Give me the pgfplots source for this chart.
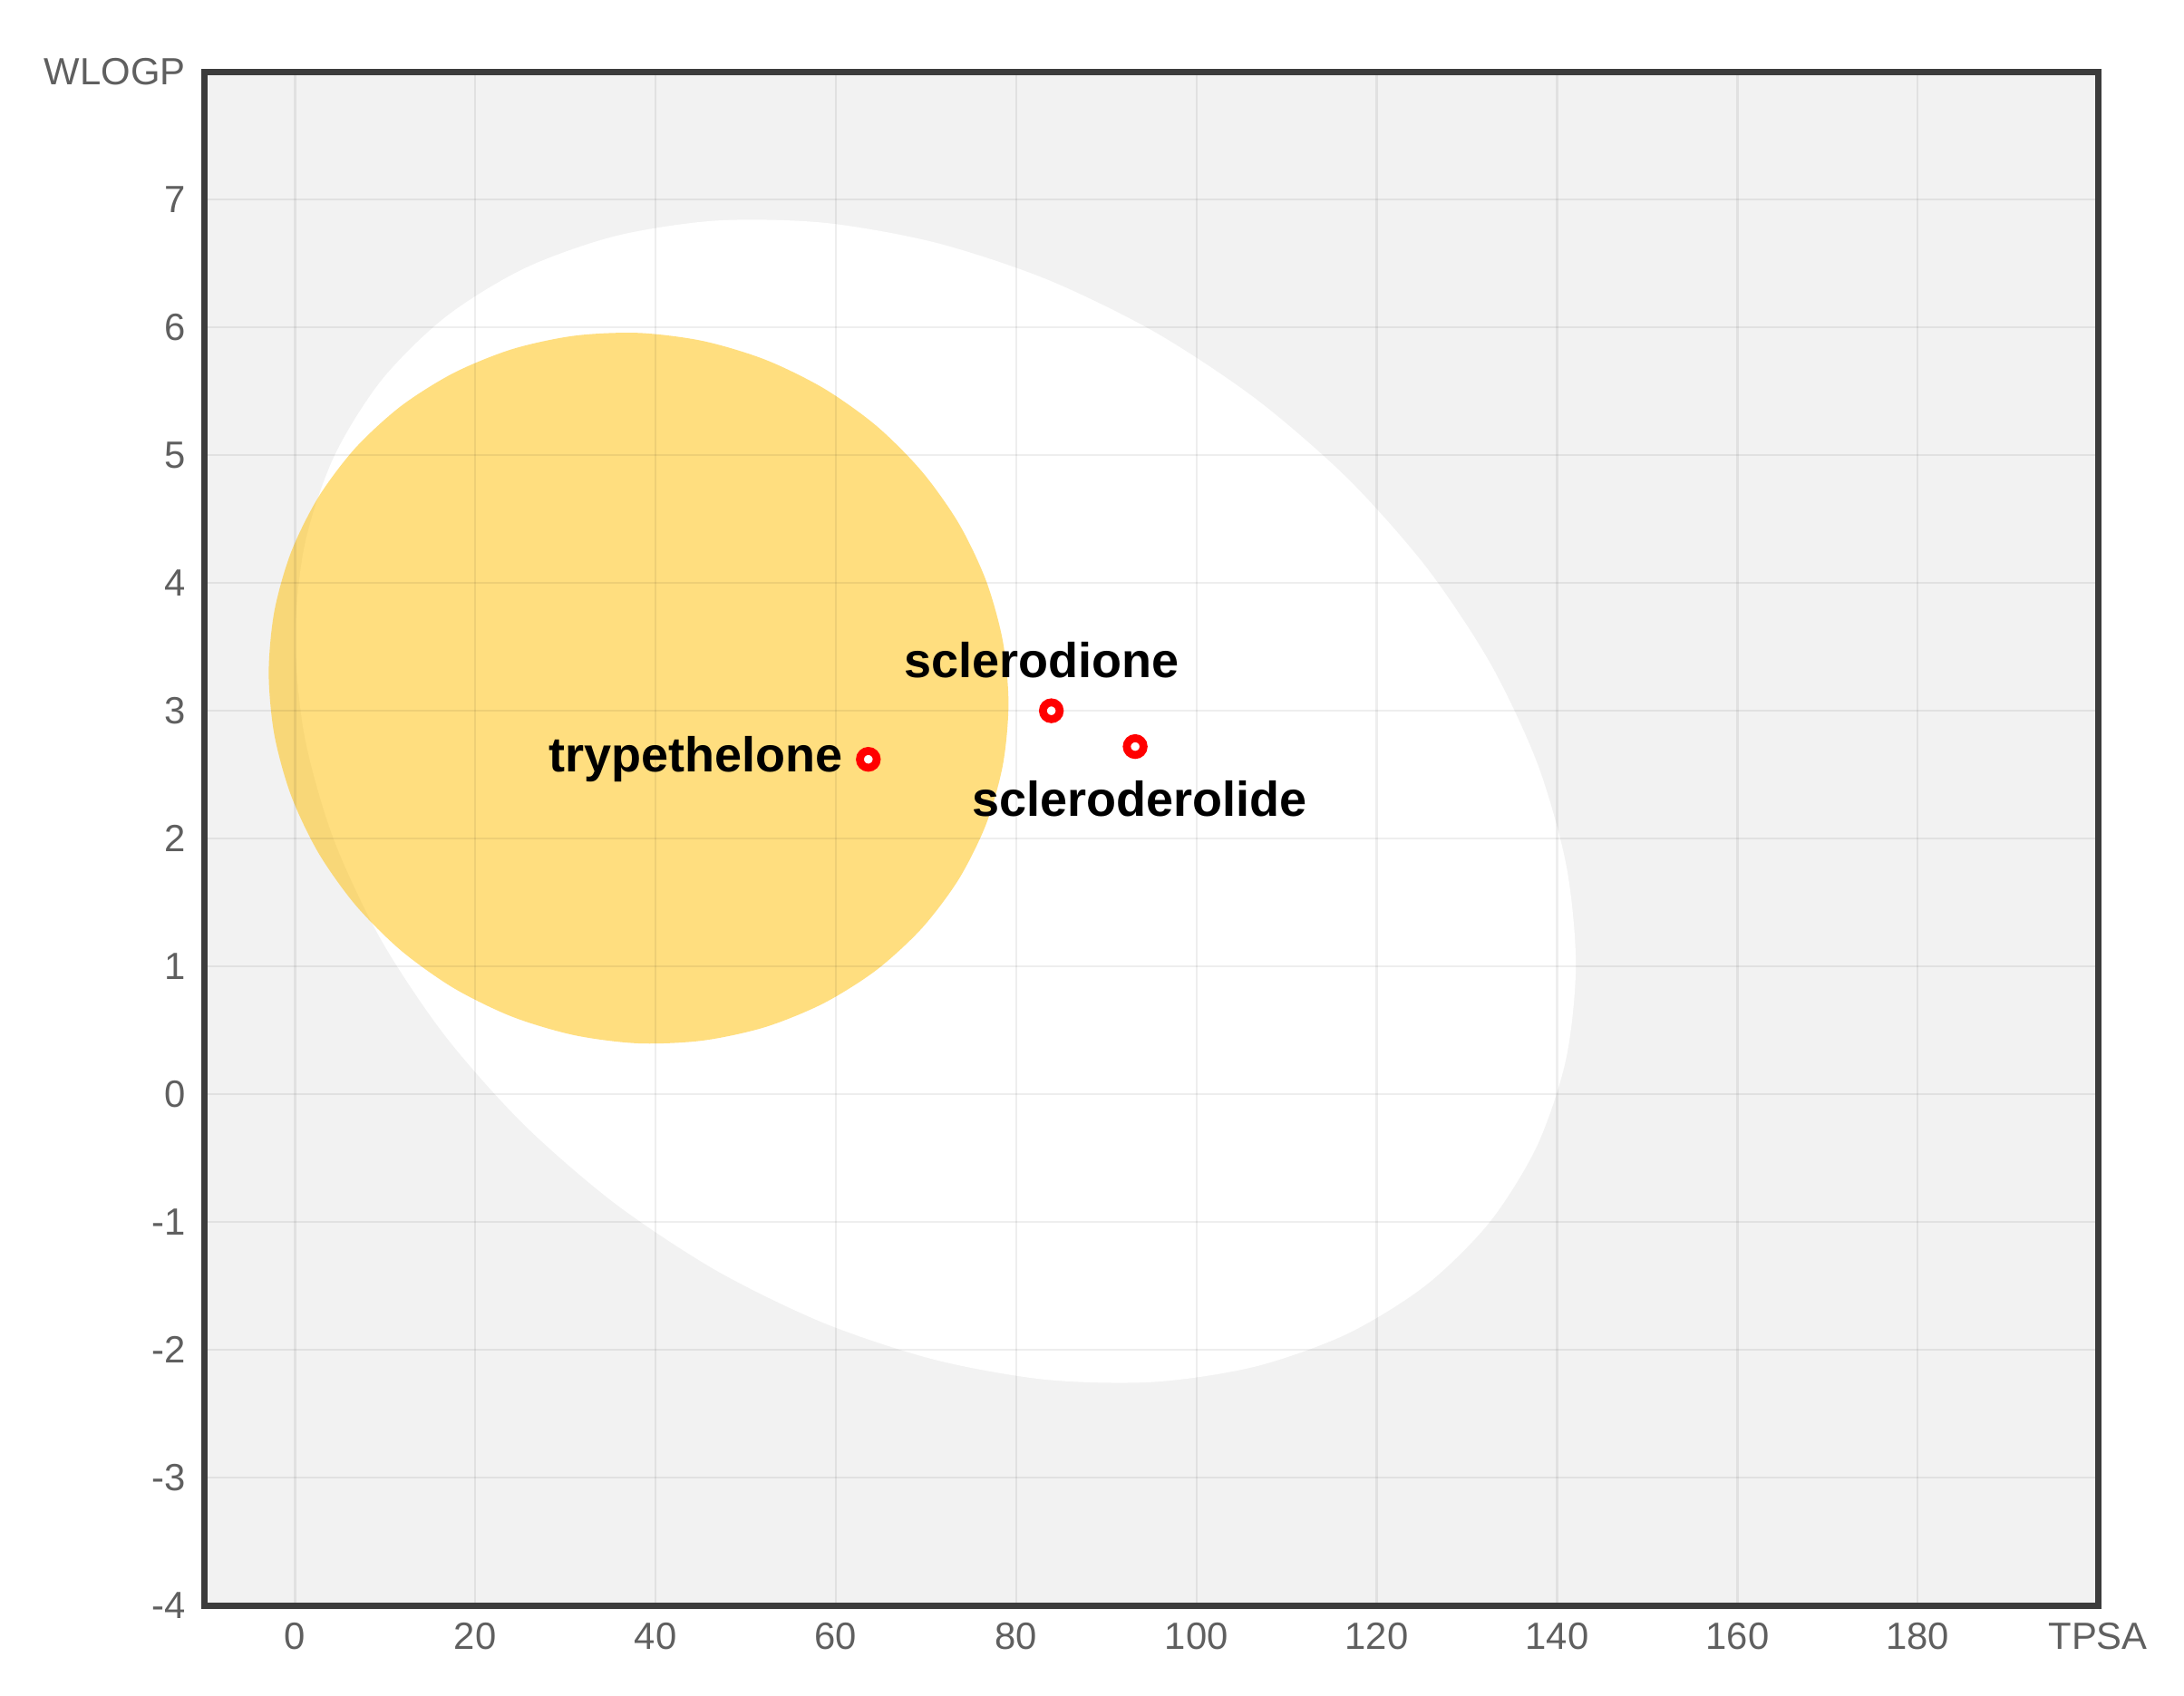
\documentclass[border=0pt]{standalone}
\usepackage{fontspec}
\setmainfont{Liberation Sans}
\usepackage{pgfplots}
\pgfplotsset{compat=1.18}

\definecolor{bggray}{RGB}{242,242,242}
\definecolor{framegray}{RGB}{60,60,60}
\definecolor{ticklab}{RGB}{95,95,95}
\definecolor{yolk}{RGB}{255,190,0}

% extra layer so the egg sits under the grid
\pgfdeclarelayer{eggs}
\pgfplotsset{
  layers/egglayers/.define layer set={
    axis background,eggs,axis grid,axis ticks,axis lines,axis tick labels,pre main,main,axis descriptions,axis foreground
  }{
    grid style={/pgfplots/on layer=axis grid},
    tick style={/pgfplots/on layer=axis ticks},
    axis line style={/pgfplots/on layer=axis lines},
    label style={/pgfplots/on layer=axis descriptions},
    legend style={/pgfplots/on layer=axis descriptions},
    title style={/pgfplots/on layer=axis descriptions},
    ticklabel style={/pgfplots/on layer=axis tick labels},
    axis background@ style={/pgfplots/on layer=axis background},
    3d box foreground style={/pgfplots/on layer=axis foreground},
  },
}

\begin{document}
\begin{tikzpicture}
\begin{axis}[
  name=ax,
  set layers=egglayers,
  scale only axis,
  width=13.865cm, height=11.235cm,
  xmin=-10, xmax=200, ymin=-4, ymax=8,
  xtick={0,20,...,200},
  xticklabels={0,20,40,60,80,100,120,140,160,180,TPSA},
  ytick={-4,-3,...,8},
  yticklabels={-4,-3,-2,-1,0,1,2,3,4,5,6,7,WLOGP},
  major tick length=0pt,
  ticklabel style={font=\fontsize{7.9}{9}\selectfont, text=ticklab},
  yticklabel style={xshift=-0.5pt},
  grid=major,
  grid style={black, opacity=0.065, line width=0.45pt},
  axis line style={framegray, line width=1.3pt},
  axis background/.style={fill=bggray},
]
% white: HIA ellipse
\addplot[on layer=eggs, fill=white, draw=none, smooth] coordinates {
  (140.987,0.274) (142.080,1.013) (141.015,1.791) (137.824,2.585) (132.603,3.369)
  (125.513,4.121) (116.768,4.817) (106.634,5.437) (95.418,5.961) (83.463,6.373)
  (71.130,6.661) (58.795,6.817) (46.832,6.835) (35.604,6.715) (25.454,6.461)
  (16.691,6.080) (9.577,5.584) (4.332,4.988) (1.115,4.310) (0.022,3.571)
  (1.087,2.793) (4.278,1.999) (9.499,1.215) (16.590,0.463) (25.334,-0.233)
  (35.468,-0.853) (46.684,-1.377) (58.640,-1.789) (70.972,-2.077) (83.308,-2.233)
  (95.270,-2.251) (106.498,-2.131) (116.648,-1.877) (125.411,-1.496) (132.525,-1.000)
  (137.770,-0.404) (140.987,0.274) (142.080,1.013) (141.015,1.791)
};
% yolk: BBB ellipse
\addplot[on layer=eggs, fill=yolk, fill opacity=0.5, draw=none, smooth] coordinates {
  (78.523,2.577) (79.147,3.057) (78.525,3.542) (76.676,4.015) (73.654,4.463)
  (69.553,4.871) (64.497,5.229) (58.639,5.523) (52.158,5.747) (45.250,5.893)
  (38.125,5.956) (30.999,5.934) (24.092,5.829) (17.609,5.643) (11.749,5.383)
  (6.691,5.055) (2.588,4.670) (-0.436,4.240) (-2.289,3.778) (-2.913,3.297)
  (-2.291,2.813) (-0.442,2.339) (2.580,1.891) (6.681,1.483) (11.737,1.126)
  (17.595,0.831) (24.076,0.607) (30.983,0.462) (38.109,0.398) (45.234,0.420)
  (52.143,0.525) (58.625,0.711) (64.485,0.971) (69.543,1.299) (73.646,1.684)
  (76.670,2.114) (78.523,2.577) (79.147,3.057) (78.525,3.542)
};
% molecules
\addplot[only marks, mark=*, mark size=1.75pt,
  mark options={draw=red, fill=white, line width=1.65pt}] coordinates {
  (63.6,2.62) (83.9,3.00) (93.2,2.72)
};
\node[anchor=east, font=\fontsize{10.2}{12}\selectfont\bfseries, inner sep=1pt] at (61.4,2.62) {trypethelone};
\node[font=\fontsize{10.2}{12}\selectfont\bfseries, inner sep=0pt] at (82.8,3.40) {sclerodione};
\node[font=\fontsize{10.2}{12}\selectfont\bfseries, inner sep=0pt] at (93.7,2.31) {scleroderolide};
\end{axis}
\pgfresetboundingbox
\path[use as bounding box] ([shift={(-1.50cm,-0.657cm)}]ax.south west) rectangle ([shift={(0.63cm,0.525cm)}]ax.north east);
\end{tikzpicture}
\end{document}
